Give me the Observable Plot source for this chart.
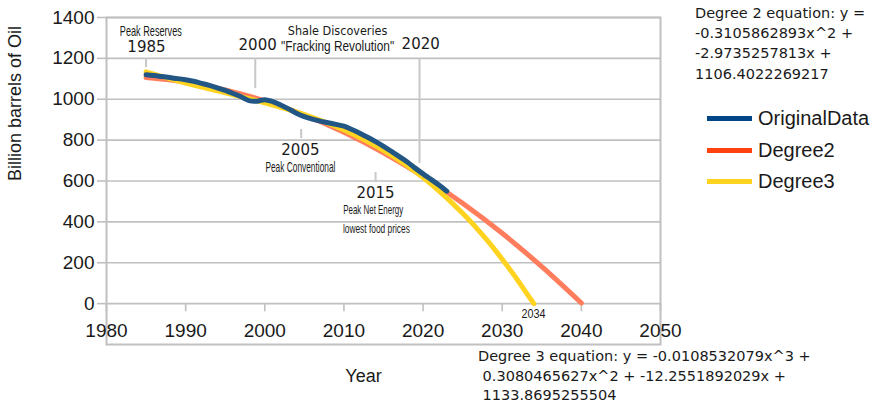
<!DOCTYPE html>
<html><head><meta charset="utf-8">
<script src="https://cdn.jsdelivr.net/npm/d3@7"></script>
<script src="https://cdn.jsdelivr.net/npm/@observablehq/plot@0.6"></script>
<style>
body{margin:0;background:#fff;}
#wrap{position:relative;width:872px;height:412px;overflow:hidden;background:#fff;}
#wrap svg{position:absolute;left:0;top:0;}
.eq{position:absolute;font-family:"DejaVu Sans",sans-serif;font-size:14.5px;color:#1a1a1a;white-space:pre;}
.legend{position:absolute;left:707px;top:103px;font-family:"Liberation Sans",Arial,sans-serif;font-size:20px;color:#1a1a1a;}
.legend .item{display:flex;align-items:center;height:31.5px;}
.legend .sw{width:45px;height:5px;margin-right:6px;}
</style></head>
<body><div id="wrap"></div>
<script>
// ---- data ----
const years = [1985,1986,1987,1988,1989,1990,1991,1992,1993,1994,1995,1996,1997,1998,1999,2000,2001,2002,2003,2004,2005,2006,2007,2008,2009,2010,2011,2012,2013,2014,2015,2016,2017,2018,2019,2020,2021,2022,2023];
const originalData = [1120,1116,1111,1106,1101,1095,1088,1078,1068,1056,1043,1028,1012,993,990,998,988,972,953,932,915,903,893,885,877,868,852,834,814,793,770,745,719,693,663,635,608,580,550];
const degree2Years = [1985,1990,1995,2000,2005,2010,2015,2020,2025,2030,2035,2040];
const degree2Values = [1106,1084,1046,992,923,838,738,622,491,344,181,3];
const degree3Years = [1985,1990,1995,2000,2005,2010,2015,2020,2025,2028,2030,2032,2033,2034];
const degree3Values = [1134,1079,1031,983,925,850,750,617,442,314,217,112,55,0];
const xTicks = [1980,1990,2000,2010,2020,2030,2040,2050];
const yTicks = [0,200,400,600,800,1000,1200,1400];
const seriesNames = ["OriginalData","Degree2","Degree3"];
const degree2Equation = ["Degree 2 equation: y =","-0.3105862893x^2 +","-2.9735257813x +","1106.4022269217"];
const degree3Equation = ["Degree 3 equation: y = -0.0108532079x^3 +"," 0.3080465627x^2 + -12.2551892029x +"," 1133.8695255504"];
const yearLabels = ["1985","2000","2020","2005","2015"];
const yearLabelX = [1985.05,1999.1,2019.7,2004.5,2014.0];
const yearLabelY = [1255,1266,1271,752,541];
const noteLabels = ["Peak Reserves","\"Fracking Revolution\"","Peak Conventional","Peak Net Energy","lowest food prices","2034"];
const noteX = [1985.6,2009.2,2004.5,2013.7,2014.1,2033.95];
const noteY = [1333,1258,670,460,368,-49];
const headLabels = ["Shale Discoveries"];
const headX = [2009.2];
const headY = [1332];
const leaderX = [1985.0,1998.8,2019.55,2004.6,2014.0];
const leaderTop = [1199,1199,1199,852,641];
const leaderBottom = [1155,1052,685,808,592];

// ---- styles ----
const colors = {OriginalData:"#215685", Degree2:"#ff7d5c", Degree3:"#ffd320"};
const legendColors = {OriginalData:"#004586", Degree2:"#ff420e", Degree3:"#ffd320"};
const grey = "#c0c0c0";
const noteStyle = {
  "Peak Reserves": {size: 14.5, width: 62},
  "\"Fracking Revolution\"": {size: 14, width: 113},
  "Peak Conventional": {size: 15, width: 70},
  "Peak Net Energy": {size: 13.5, width: 60},
  "lowest food prices": {size: 13.5, width: 67},
  "2034": {size: 13, width: 24}
};

const origRows = years.map((y,i)=>({year:y, value:originalData[i]}));
const d2Rows = degree2Years.map((y,i)=>({year:y, value:degree2Values[i]}));
const d3Rows = degree3Years.map((y,i)=>({year:y, value:degree3Values[i]}));
const yearRows = yearLabels.map((t,i)=>({t, x:yearLabelX[i], y:yearLabelY[i]}));
const noteRows = noteLabels.map((t,i)=>({t, x:noteX[i], y:noteY[i]}));
const headRows = headLabels.map((t,i)=>({t, x:headX[i], y:headY[i]}));
const leaderRows = leaderX.map((x,i)=>({x, y1:leaderTop[i], y2:leaderBottom[i]}));

const chart = Plot.plot({
  width: 872, height: 412,
  marginLeft: 106, marginRight: 212, marginTop: 17, marginBottom: 68,
  style: {fontFamily: "'Liberation Sans', Arial, sans-serif", fontSize: "19px", color: "#1a1a1a", background: "transparent", overflow: "visible"},
  x: {domain: [1980, 2050], axis: null, label: null},
  y: {domain: [-200, 1400], label: null},
  marks: [
    Plot.gridY(yTicks, {stroke: grey, strokeOpacity: 1, strokeWidth: 1.6}),
    Plot.frame({stroke: grey, strokeWidth: 2}),
    Plot.axisY(yTicks, {tickSize: 9, tickPadding: 3, tickFormat: d => String(d), stroke: grey, strokeWidth: 1.6, fill: "#1a1a1a", fontSize: 19, label: null}),
    Plot.ruleX(xTicks, {x: d=>d, y1: 0, y2: -40, stroke: grey, strokeWidth: 1.6}),
    Plot.text(xTicks, {x: d=>d, y: 0, dy: 27, text: d=>String(d), fontSize: 19, fill: "#1a1a1a"}),
    Plot.ruleX(leaderRows, {x: "x", y1: "y1", y2: "y2", stroke: "#c8c8c8", strokeWidth: 2}),
    Plot.line(d2Rows, {x: "year", y: "value", curve: "catmull-rom", stroke: colors.Degree2, strokeWidth: 5}),
    Plot.line(d3Rows, {x: "year", y: "value", curve: "catmull-rom", stroke: colors.Degree3, strokeWidth: 5}),
    Plot.line(origRows, {x: "year", y: "value", curve: "catmull-rom", stroke: colors.OriginalData, strokeWidth: 5}),
    Plot.text(yearRows, {x: "x", y: "y", text: "t", fontFamily: "'DejaVu Sans', sans-serif", fontSize: 15, fill: "#1a1a1a"}),
    Plot.text(headRows, {x: "x", y: "y", text: "t", fontFamily: "'DejaVu Sans Condensed', 'DejaVu Sans', sans-serif", fontSize: 12.5, fill: "#1a1a1a"}),
    Plot.text(noteRows, {x: "x", y: "y", text: "t", fontFamily: "'Liberation Sans Narrow', 'Liberation Sans', sans-serif", fontSize: d=>noteStyle[d.t].size, fill: "#1a1a1a"}),
    Plot.text(["Billion barrels of Oil"], {frameAnchor: "left", dx: -91, rotate: -90, fontSize: 18, fill: "#1a1a1a"}),
    Plot.text(["Year"], {frameAnchor: "bottom", dx: -20, dy: 37, fontSize: 18, fill: "#1a1a1a"})
  ]
});

d3.select(chart).selectAll("text").each(function(){
  const s = noteStyle[this.textContent];
  if (s) { this.setAttribute("textLength", s.width); this.setAttribute("lengthAdjust", "spacingAndGlyphs"); }
});

const wrap = document.getElementById("wrap");
wrap.appendChild(chart);

const eq2 = document.createElement("div");
eq2.className = "eq";
eq2.style.left = "695px"; eq2.style.top = "3px"; eq2.style.lineHeight = "20.2px";
eq2.textContent = degree2Equation.join("\n");
wrap.appendChild(eq2);

const eq3 = document.createElement("div");
eq3.className = "eq";
eq3.style.left = "478px"; eq3.style.top = "347px"; eq3.style.lineHeight = "19.5px";
eq3.textContent = degree3Equation.join("\n");
wrap.appendChild(eq3);

const legend = document.createElement("div");
legend.className = "legend";
seriesNames.forEach(n => {
  const item = document.createElement("div"); item.className = "item";
  const sw = document.createElement("div"); sw.className = "sw"; sw.style.background = legendColors[n];
  const lab = document.createElement("span"); lab.textContent = n;
  item.appendChild(sw); item.appendChild(lab); legend.appendChild(item);
});
wrap.appendChild(legend);
</script></body></html>
